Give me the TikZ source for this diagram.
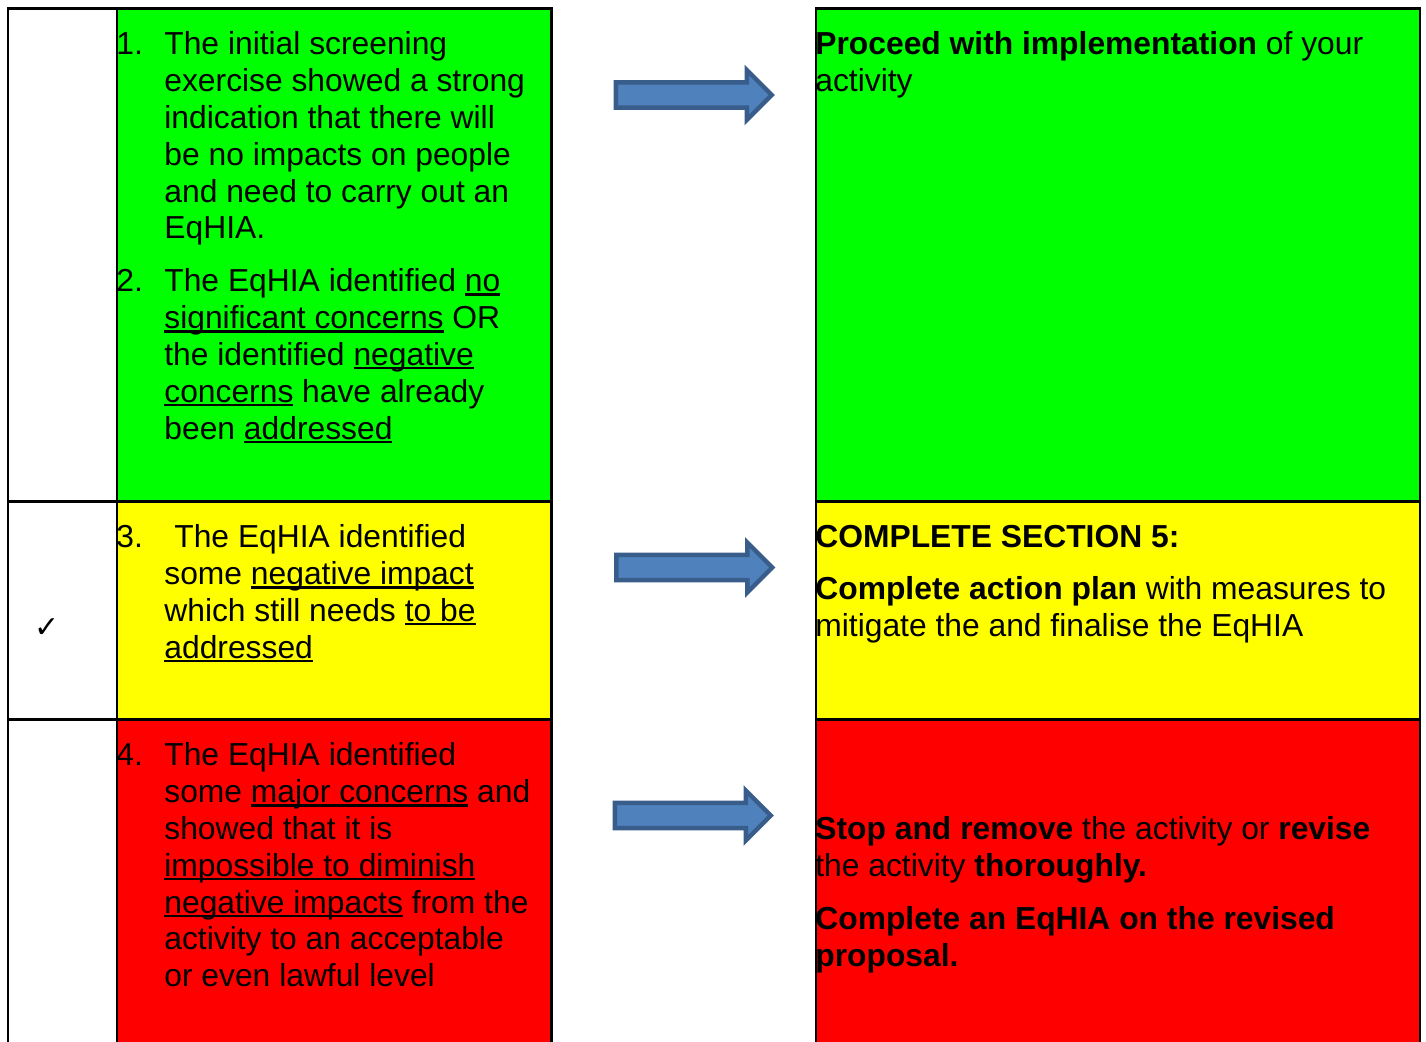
\documentclass[tikz,border=0pt]{standalone}
\usepackage{fontspec}
\setmainfont{Liberation Sans}
\newfontfamily\symfont{DejaVu Sans}
\usetikzlibrary{shapes.arrows}
\definecolor{okgreen}{HTML}{00FF00}
\definecolor{warnyellow}{HTML}{FFFF00}
\definecolor{stopred}{HTML}{FF0000}
\definecolor{arrowfill}{HTML}{4F81BD}
\definecolor{arrowline}{HTML}{385D8A}
\newcommand{\undl}[1]{\setbox0\hbox{#1}\rlap{\rule[-1.9pt]{\wd0}{1.2pt}}\box0\relax}

\begin{document}
\begin{tikzpicture}[x=0.5pt,y=-0.5pt,
  cell/.style={rectangle,draw,line width=1.4pt,inner sep=0pt,anchor=north west},
  txt/.style={inner sep=0pt,anchor=base west,font=\fontsize{15.9}{18.4}\selectfont},
  blockarrow/.style={single arrow,draw=arrowline,fill=arrowfill,line width=2.2pt,
    inner xsep=0pt,inner ysep=5.2pt,minimum height=78pt,single arrow head extend=6.2pt}]
  \clip (0,0) rectangle (1426,1042);
  % left table
  \node(blank1)[cell,minimum width=54.5pt,minimum height=246.25pt] at (6.5,7.5){};
  \node(tick)[cell,minimum width=54.5pt,minimum height=109pt] at (6.5,500){};
  \node(blank3)[cell,minimum width=54.5pt,minimum height=180pt] at (6.5,718){};
  \node(green)[cell,fill=okgreen,minimum width=217.25pt,minimum height=246.25pt] at (115.5,7.5){};
  \node(yellow)[cell,fill=warnyellow,minimum width=217.25pt,minimum height=109pt] at (115.5,500){};
  \node(red)[cell,fill=stopred,minimum width=217.25pt,minimum height=180pt] at (115.5,718){};
  % right table
  \node(proceed)[cell,fill=okgreen,minimum width=302pt,minimum height=246.25pt] at (814.5,7.5){};
  \node(complete)[cell,fill=warnyellow,minimum width=302pt,minimum height=109pt] at (814.5,500){};
  \node(stop)[cell,fill=stopred,minimum width=302pt,minimum height=180pt] at (814.5,718){};
  % arrows
  \node(goarrow)[blockarrow] at (687.5,95){};
  \node(actarrow)[blockarrow] at (688,567.5){};
  \node(haltarrow)[blockarrow] at (686.5,815.5){};
  % tick mark
  \node(tickmark)[inner sep=0pt,font=\symfont\fontsize{15}{17}\selectfont] at (47,628){✓};
  % texts
  \node(greentext)[txt] at (116,55){\begin{tabular}[t]{@{}p{24pt}@{}l@{}}
    1. & The initial screening\\
       & exercise showed a strong\\
       & indication that there will\\
       & be no impacts on people\\
       & and need to carry out an\\
       & EqHIA.\\[8.1pt]
    2. & The EqHIA identified \undl{no}\\
       & \undl{significant concerns} OR\\
       & the identified \undl{negative}\\
       & \undl{concerns} have already\\
       & been \undl{addressed}
  \end{tabular}};
  \node(yellowtext)[txt] at (116,548){\begin{tabular}[t]{@{}p{24pt}@{}l@{}}
    3. & \hspace*{5pt}The EqHIA identified\\
       & some \undl{negative impact}\\
       & which still needs \undl{to be}\\
       & \undl{addressed}
  \end{tabular}};
  \node(redtext)[txt] at (116,766){\begin{tabular}[t]{@{}p{24pt}@{}l@{}}
    4. & The EqHIA identified\\
       & some \undl{major concerns} and\\
       & showed that it is\\
       & \undl{impossible to diminish}\\
       & \undl{negative impacts} from the\\
       & activity to an acceptable\\
       & or even lawful level
  \end{tabular}};
  \node(proceedtext)[txt] at (815,55){\begin{tabular}[t]{@{}l@{}}
    \textbf{Proceed with implementation} of your\\
    activity
  \end{tabular}};
  \node(completetext)[txt] at (815,548){\begin{tabular}[t]{@{}l@{}}
    \textbf{COMPLETE SECTION 5:}\\[7.6pt]
    \textbf{Complete action plan} with measures to\\
    mitigate the and finalise the EqHIA
  \end{tabular}};
  \node(stoptext)[txt] at (815,840){\begin{tabular}[t]{@{}l@{}}
    \textbf{Stop and remove} the activity or \textbf{revise}\\
    the activity \textbf{thoroughly.}\\[8pt]
    \textbf{Complete an EqHIA on the revised}\\
    \textbf{proposal.}
  \end{tabular}};
\end{tikzpicture}
\end{document}
